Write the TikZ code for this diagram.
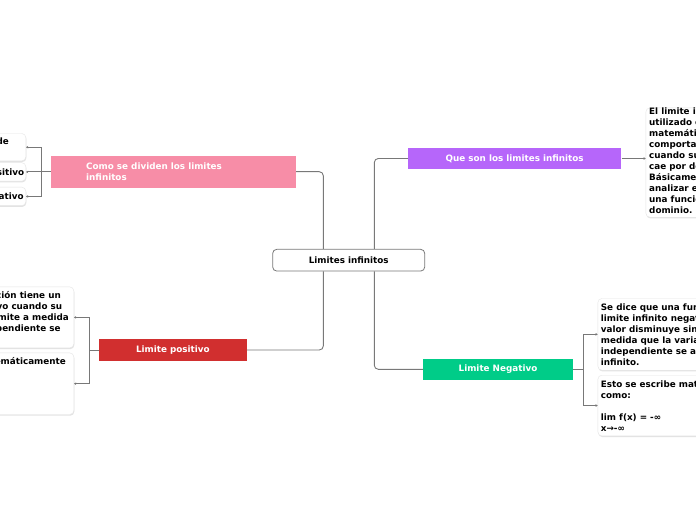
\documentclass[tikz,border=0pt]{standalone}
\usepackage{fontspec}
\setmainfont{DejaVu Sans}
\usetikzlibrary{arrows.meta,shadows}
\definecolor{cpink}{RGB}{247,141,167}
\definecolor{cpurple}{RGB}{182,102,250}
\definecolor{cred}{RGB}{209,47,47}
\definecolor{cgreen}{RGB}{0,204,136}
\definecolor{cline}{RGB}{120,120,120}
\begin{document}
\begin{tikzpicture}[x=1bp,y=-1bp,
  every node/.style={font=\fontsize{8.8bp}{11bp}\selectfont\bfseries},
  conn/.style={draw=cline, line width=0.9bp},
  leaf/.style={conn, -{Stealth[length=2.2bp,width=2.6bp]}},
  topic/.style={inner sep=0, text=white, draw=none},
  central/.style={draw=cline, line width=0.8bp, rounded corners=4bp, fill=white, inner sep=0, minimum width=152bp, minimum height=21.7bp},
  wbox/.style={fill=white, draw=black!10, line width=0.4bp, rounded corners=4bp, inner sep=0,
    drop shadow={shadow xshift=0.5bp, shadow yshift=-1.2bp, opacity=0.22}},
  ln/.style={inner sep=0, text=black},
]
\fill[white] (0,0) rectangle (696,520);
\useasboundingbox (0,0) rectangle (696,520);

% central and main topics
\node[central] (c) at (348.7,260.2) {Limites infinitos};
\node[topic, fill=cpurple, minimum width=213.3bp, minimum height=21bp] (purple) at (514.65,158.5) {Que son los limites infinitos};
\node[topic, fill=cpink, minimum width=245.3bp, minimum height=32bp] (pink) at (173.35,171.7) {};
\node[topic, anchor=base west] (pk1) at (86,169.3) {Como se dividen los limites};
\node[topic, anchor=base west] (pk2) at (86,180.3) {infinitos};
\node[topic, fill=cred, minimum width=147.7bp, minimum height=21.4bp] (red) at (172.85,350) {Limite positivo};
\node[topic, fill=cgreen, minimum width=149.4bp, minimum height=21.3bp] (green) at (498,369.3) {Limite Negativo};

% main connectors
\coordinate (jl) at (323.3,260);
\coordinate (jr) at (374.3,260);
\draw[conn, rounded corners=4bp] (pink.east) -| (c.north -| jl);
\draw[conn, rounded corners=4bp] (red.east) -| (c.south -| jl);
\draw[conn, rounded corners=4bp] (purple.west) -| (c.north -| jr);
\draw[conn, rounded corners=4bp] (green.west) -| (c.south -| jr);

% white leaf boxes
\node[wbox, anchor=north west, minimum width=230bp, minimum height=109.3bp] (rt) at (645.7,107.7) {};
\node[wbox, anchor=north west, minimum width=200bp, minimum height=71.7bp] (rc1) at (597.7,298.3) {};
\node[wbox, anchor=north west, minimum width=200bp, minimum height=60.7bp] (rc2) at (597.7,375) {};
\node[wbox, anchor=north east, minimum width=150bp, minimum height=27.4bp] (lc1) at (26,133.3) {};
\node[wbox, anchor=north east, minimum width=150bp, minimum height=18.5bp] (lc2) at (26,162.5) {};
\node[wbox, anchor=north east, minimum width=150bp, minimum height=18.5bp] (lc3) at (26,187) {};
\node[wbox, anchor=north east, minimum width=220bp, minimum height=61bp] (lc4) at (74,286.7) {};
\node[wbox, anchor=north east, minimum width=220bp, minimum height=61.6bp] (lc5) at (74,352.7) {};

% leaf connectors
\draw[leaf] (purple.east) -- (purple.east -| rt.west);
\coordinate (pj) at (41.3,171.7);
\draw[conn] (pink.west) -- (pj);
\draw[leaf] (pj) |- (lc1.east);
\draw[leaf] (pj) |- (lc2.east);
\draw[leaf] (pj) |- (lc3.east);
\coordinate (rj) at (89.3,350);
\draw[conn] (red.west) -- (rj);
\draw[leaf] (rj) |- (lc4.east);
\draw[leaf] (rj) |- (lc5.east);
\coordinate (gj) at (583.3,369.3);
\draw[conn] (green.east) -- (gj);
\draw[leaf] (gj) |- (rc1.west);
\draw[leaf] (gj) |- (rc2.west);

% texts of right top box
\node[ln, anchor=base west] (rt1) at (649,114.8) {El limite infinito es un concepto};
\node[ln, anchor=base west] (rt2) at (649,125.8) {utilizado en el análisis};
\node[ln, anchor=base west] (rt3) at (649,136.8) {matemático para describir el};
\node[ln, anchor=base west] (rt4) at (649,147.8) {comportamiento de una función};
\node[ln, anchor=base west] (rt5) at (649,158.8) {cuando su variable crece o};
\node[ln, anchor=base west] (rt6) at (649,169.8) {cae por debajo de cualquier valor.};
\node[ln, anchor=base west] (rt7) at (649,180.8) {Básicamente, se utiliza para};
\node[ln, anchor=base west] (rt8) at (649,191.8) {analizar el comportamiento de};
\node[ln, anchor=base west] (rt9) at (649,202.8) {una función en los extremos de su};
\node[ln, anchor=base west] (rt10) at (649,213.8) {dominio.};

% texts of right negative boxes
\node[ln, anchor=base west] (ra1) at (600.7,310.3) {Se dice que una función tiene un};
\node[ln, anchor=base west] (ra2) at (600.7,321.3) {limite infinito negativo cuando su};
\node[ln, anchor=base west] (ra3) at (600.7,332.3) {valor disminuye sin limite a};
\node[ln, anchor=base west] (ra4) at (600.7,343.3) {medida que la variable};
\node[ln, anchor=base west] (ra5) at (600.7,354.3) {independiente se acerca a menos};
\node[ln, anchor=base west] (ra6) at (600.7,365.3) {infinito.};
\node[ln, anchor=base west] (rb1) at (600.7,387.5) {Esto se escribe matemáticamente};
\node[ln, anchor=base west] (rb2) at (600.7,398.5) {como:};
\node[ln, anchor=base west] (rb3) at (600.7,420.5) {lim f(x) = -∞};
\node[ln, anchor=base west] (rb4) at (600.7,431.5) {x→-∞};

% texts of left boxes (clipped by the page edge)
\node[ln, anchor=base east] (la1) at (9,145) {Existen dos tipos de};
\node[ln, anchor=base east] (la2) at (24.3,176) {Limite positivo};
\node[ln, anchor=base east] (la3) at (23.8,199.5) {Limite negativo};
\node[ln, anchor=base east] (lb1) at (61,298.5) {Se dice que una función tiene un};
\node[ln, anchor=base east] (lb2) at (62.3,309.5) {limite infinito positivo cuando su};
\node[ln, anchor=base east] (lb3) at (69,320.5) {valor aumenta sin limite a medida};
\node[ln, anchor=base east] (lb4) at (60.7,331.5) {que la variable independiente se};
\node[ln, anchor=base east] (lc1t) at (66,364.5) {Esto se escribe matemáticamente};
\end{tikzpicture}
\end{document}
